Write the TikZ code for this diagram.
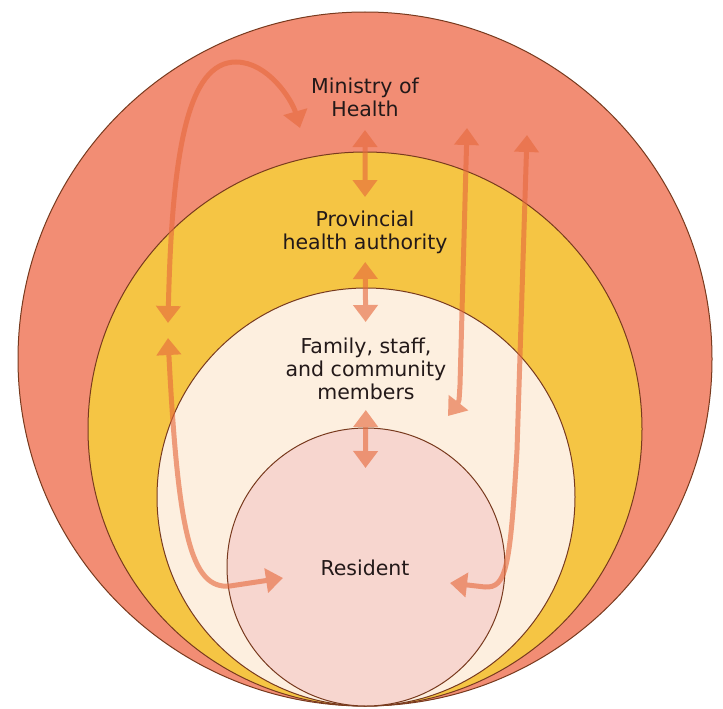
\documentclass[tikz,border=0pt]{standalone}
\usepackage{fontspec}
\setmainfont{DejaVu Sans}
\usetikzlibrary{arrows.meta}
\definecolor{salmon}{RGB}{242,141,116}
\definecolor{gold}{RGB}{245,197,68}
\definecolor{cream}{RGB}{253,239,223}
\definecolor{blush}{RGB}{247,214,207}
\definecolor{rim}{RGB}{120,58,30}
\definecolor{flowc}{RGB}{230,105,60}
\definecolor{ink}{RGB}{35,25,25}
\begin{document}
\begin{tikzpicture}[x=1pt,y=-1pt,
  ring/.style={draw=rim,line width=1pt},
  flow/.style={draw=flowc,line width=5pt,{Triangle[length=17pt,width=24pt]}-{Triangle[length=17pt,width=24pt]}},
  tier/.style={align=center,text=ink,font=\fontsize{20.5}{23}\selectfont}]
\useasboundingbox (0,0) rectangle (723,709);
\fill[white] (0,0) rectangle (723,709);
\filldraw[ring,fill=salmon] (365,359) circle (347);
\filldraw[ring,fill=gold] (365,429) circle (277);
\filldraw[ring,fill=cream] (366,497) circle (209);
\filldraw[ring,fill=blush] (366,567) circle (139);
\node[tier] (moh) at (365,97) {Ministry of\\Health};
\node[tier] (pha) at (365,232) {Provincial\\health authority};
\node[tier] (fam) at (366,369) {Family, staff,\\and community\\members};
\node[tier] (res) at (365,568) {Resident};
\coordinate (mohL) at (300,128);
\coordinate (phaL) at (168,323);
\coordinate (phaL2) at (168,338);
\coordinate (resL) at (283,578);
\coordinate (mohR) at (467,128);
\coordinate (famR) at (448,416);
\coordinate (mohR2) at (527,135);
\coordinate (resR) at (450,583);
\begin{scope}[transparency group,opacity=0.62]
\draw[flow,shorten <=33pt,shorten >=35pt] (moh.center) -- (pha.center);
\draw[flow,shorten <=30pt,shorten >=47pt] (pha.center) -- (fam.center);
\draw[flow,shorten <=41pt,shorten >=100pt] (fam.center) -- (res.center);
\draw[flow] (phaL) .. controls (172,150) and (188,62) .. (236,62) .. controls (268,62) and (292,100) .. (mohL);
\draw[flow] (phaL2) .. controls (178,530) and (190,590) .. (230,586) -- (resL);
\draw[flow] (mohR) -- (460,385) .. controls (459,402) .. (famR);
\draw[flow] (mohR2) -- (517,450) .. controls (510,570) and (506,588) .. (485,587) -- (resR);
\end{scope}
\end{tikzpicture}
\end{document}
